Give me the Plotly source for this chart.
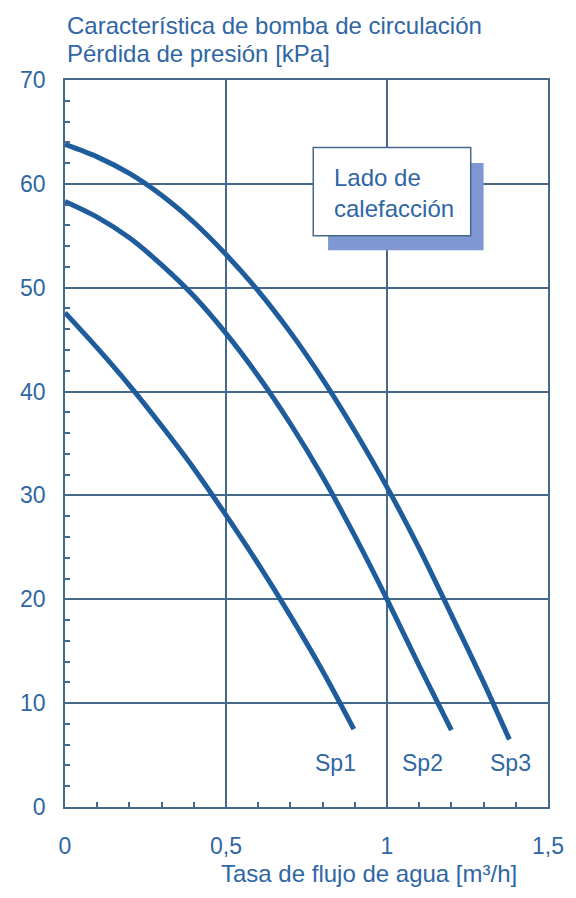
import plotly.graph_objects as go

# caudal [m3/h] y pérdida de presión [kPa]
sp1_caudal = [0.0, 0.1, 0.2, 0.3, 0.4, 0.5, 0.6, 0.7, 0.8, 0.897]
sp1_presion = [47.6, 44.2, 40.6, 36.7, 32.6, 28.1, 23.4, 18.4, 13.1, 7.5]

sp2_caudal = [0.0, 0.1, 0.2, 0.3, 0.4, 0.5, 0.6, 0.7, 0.8, 0.9, 1.0, 1.1, 1.2]
sp2_presion = [58.3, 56.8, 54.8, 52.2, 49.2, 45.6, 41.5, 36.9, 31.8, 26.1, 20.0, 13.6, 7.4]

sp3_caudal = [0.0, 0.1, 0.2, 0.3, 0.4, 0.5, 0.6, 0.7, 0.8, 0.9, 1.0, 1.1, 1.2, 1.3, 1.38]
sp3_presion = [63.8, 62.6, 61.0, 58.9, 56.3, 53.2, 49.7, 45.7, 41.2, 36.2, 30.8, 24.9, 18.5, 12.0, 6.5]

etiquetas = ["Sp1", "Sp2", "Sp3"]
etiqueta_x = [0.841, 1.11, 1.385]
etiqueta_y = [4.2, 4.2, 4.2]

x_ticks = [0, 0.5, 1, 1.5]
y_ticks = [0, 10, 20, 30, 40, 50, 60, 70]

AZUL = "#1f5c9c"
REJILLA = "#46698a"
TEXTO = "#2f66a4"
FUENTE = "Liberation Sans, Arial, sans-serif"

fig = go.Figure()
for xs, ys in [(sp1_caudal, sp1_presion), (sp2_caudal, sp2_presion), (sp3_caudal, sp3_presion)]:
    fig.add_trace(go.Scatter(x=xs, y=ys, mode="lines", line=dict(color=AZUL, width=5, shape="spline", smoothing=0.8),
                             showlegend=False, hoverinfo="skip"))

for t, x, y in zip(etiquetas, etiqueta_x, etiqueta_y):
    fig.add_annotation(x=x, y=y, text=t, showarrow=False, font=dict(size=23, color=TEXTO, family=FUENTE))

# recuadro "Lado de calefacción" con sombra
fig.add_shape(type="rect", x0=0.817, x1=1.30, y0=53.6, y1=62.0, fillcolor="#7f98d4", line=dict(width=0), layer="above")
fig.add_shape(type="rect", x0=0.771, x1=1.26, y0=55.0, y1=63.5, fillcolor="white", line=dict(color=REJILLA, width=1.5), layer="above")
fig.add_annotation(x=0.829, y=59.1, text="Lado de<br>calefacción", showarrow=False, xanchor="left", align="left",
                   font=dict(size=24, color=TEXTO, family=FUENTE))

# títulos
fig.add_annotation(xref="paper", yref="paper", x=0, y=1.075, xanchor="left", yanchor="middle", showarrow=False,
                   text="Característica de bomba de circulación", font=dict(size=24, color=TEXTO, family=FUENTE))
fig.add_annotation(xref="paper", yref="paper", x=0, y=1.036, xanchor="left", yanchor="middle", showarrow=False,
                   text="Pérdida de presión [kPa]", font=dict(size=24, color=TEXTO, family=FUENTE))
fig.add_annotation(xref="paper", yref="paper", x=0.629, y=-0.091, xanchor="center", yanchor="middle", showarrow=False,
                   text="Tasa de flujo de agua [m³/h]", font=dict(size=24, color=TEXTO, family=FUENTE))

eje = dict(showline=True, linecolor=REJILLA, linewidth=1.5, mirror=True, showgrid=True, gridcolor=REJILLA,
           gridwidth=1.5, zeroline=False, ticks="inside", ticklen=6, tickcolor=REJILLA, tickwidth=1.5,
           tickfont=dict(size=23, color=TEXTO, family=FUENTE))

fig.update_xaxes(range=[0, 1.5], tickvals=x_ticks, ticklabelstandoff=18,
                 minor=dict(dtick=0.1, ticks="inside", ticklen=5, tickcolor=REJILLA, tickwidth=1.5, showgrid=False), **eje)
fig.update_yaxes(range=[0, 70], tickvals=y_ticks, ticklabelstandoff=13,
                 minor=dict(dtick=2, ticks="inside", ticklen=5, tickcolor=REJILLA, tickwidth=1.5, showgrid=False), **eje)

# la página añade 8 px de margen, por eso 568x890
fig.update_layout(width=568, height=890, margin=dict(l=54, r=26, t=72, b=91), separators=", ",
                  plot_bgcolor="white", paper_bgcolor="white", font=dict(family=FUENTE, color=TEXTO))

fig.write_html("out.html")
